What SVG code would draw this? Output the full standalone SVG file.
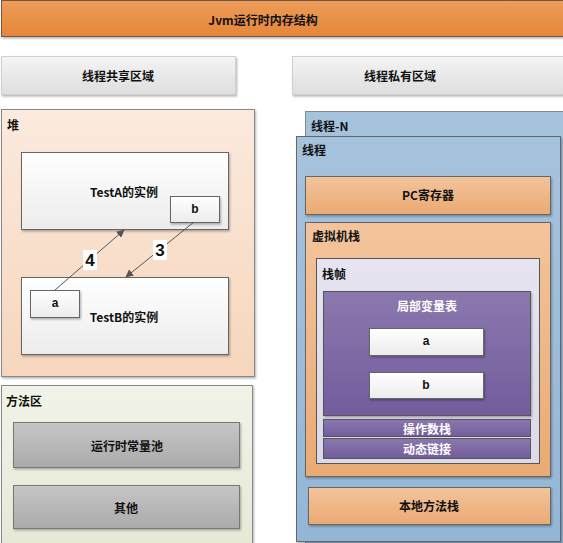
<svg xmlns="http://www.w3.org/2000/svg" width="563" height="543" viewBox="0 0 563 543">
<defs>
<linearGradient id="gOrange" x1="0" y1="0" x2="0" y2="1"><stop offset="0" stop-color="#ed9c58"/><stop offset="1" stop-color="#e5863a"/></linearGradient>
<linearGradient id="gGrey" x1="0" y1="0" x2="0" y2="1"><stop offset="0" stop-color="#f4f4f4"/><stop offset="1" stop-color="#dedede"/></linearGradient>
<linearGradient id="gPeach" x1="0" y1="0" x2="0" y2="1"><stop offset="0" stop-color="#fbeade"/><stop offset="1" stop-color="#f6d6bc"/></linearGradient>
<linearGradient id="gWhite" x1="0" y1="0" x2="0" y2="1"><stop offset="0" stop-color="#ffffff"/><stop offset="1" stop-color="#ececec"/></linearGradient>
<linearGradient id="gGreen" x1="0" y1="0" x2="0" y2="1"><stop offset="0" stop-color="#f1f3e8"/><stop offset="1" stop-color="#e6e9d6"/></linearGradient>
<linearGradient id="gMid" x1="0" y1="0" x2="0" y2="1"><stop offset="0" stop-color="#c6c6c6"/><stop offset="1" stop-color="#aaaaaa"/></linearGradient>
<linearGradient id="gBlue" x1="0" y1="0" x2="0" y2="1"><stop offset="0" stop-color="#a6c3dd"/><stop offset="1" stop-color="#94b6d6"/></linearGradient>
<linearGradient id="gLight" x1="0" y1="0" x2="0" y2="1"><stop offset="0" stop-color="#f3c49c"/><stop offset="1" stop-color="#eaaa73"/></linearGradient>
<linearGradient id="gLav" x1="0" y1="0" x2="0" y2="1"><stop offset="0" stop-color="#e6e4f0"/><stop offset="1" stop-color="#dcd9e8"/></linearGradient>
<linearGradient id="gPurple" x1="0" y1="0" x2="0" y2="1"><stop offset="0" stop-color="#8b78ae"/><stop offset="1" stop-color="#725d9c"/></linearGradient>
<filter id="sh" x="-5%" y="-5%" width="115%" height="120%"><feDropShadow dx="1" dy="1.5" stdDeviation="1" flood-color="#000" flood-opacity="0.3"/></filter>
<marker id="arr" viewBox="0 0 10 10" refX="9" refY="5" markerWidth="8" markerHeight="8" orient="auto-start-reverse" markerUnits="userSpaceOnUse"><path d="M0,0 L10,5 L0,10 z" fill="#555"/></marker>
</defs>
<style>
text{font-family:"Noto Sans CJK SC","Liberation Sans",sans-serif;font-size:12px;font-weight:bold;fill:#111;}
.c{text-anchor:middle;dominant-baseline:central;}
.l{dominant-baseline:central;}
.w{fill:#fff;}
.b{stroke:#666;stroke-width:1;}
.num{font-family:"Liberation Sans",sans-serif;font-size:17px;}
</style>
<rect width="563" height="543" fill="#fff"/>
<g id="title"><rect x="1.5" y="0.5" width="563" height="36" fill="url(#gOrange)" stroke="#6d5848" filter="url(#sh)"/><text class="c" x="263" y="19">Jvm运行时内存结构</text></g>
<g id="shared"><rect x="1.5" y="56.5" width="234" height="38" fill="url(#gGrey)" stroke="#d0d0d0" filter="url(#sh)"/><text class="c" x="118" y="75">线程共享区域</text></g>
<g id="private"><rect x="292.5" y="56.5" width="272" height="38" fill="url(#gGrey)" stroke="#d0d0d0" filter="url(#sh)"/><text class="c" x="400" y="75">线程私有区域</text></g>
<g id="heap"><rect x="1.5" y="109.5" width="253" height="267" fill="url(#gPeach)" stroke="#888" filter="url(#sh)"/><text class="l" x="7" y="124">堆</text></g>
<g id="testA"><rect x="21.5" y="152.5" width="207" height="77" fill="url(#gWhite)" class="b" filter="url(#sh)"/><text class="c" x="124" y="191">TestA的实例</text></g>
<g id="testA-b"><rect x="170.5" y="196.5" width="49" height="26" fill="url(#gWhite)" class="b" filter="url(#sh)"/><text class="c" x="195" y="209" style="font-family:'Liberation Sans',sans-serif">b</text></g>
<g id="testB"><rect x="21.5" y="277.5" width="207" height="77" fill="url(#gWhite)" class="b" filter="url(#sh)"/><text class="c" x="124" y="316">TestB的实例</text></g>
<g id="testB-a"><rect x="30.5" y="290.5" width="49" height="27" fill="url(#gWhite)" class="b" filter="url(#sh)"/><text class="c" x="55" y="303" style="font-family:'Liberation Sans',sans-serif">a</text></g>
<g id="connectors" fill="none" stroke="#555" stroke-width="1">
<line x1="55" y1="290" x2="124" y2="230" marker-end="url(#arr)"/>
<line x1="194" y1="222" x2="126" y2="277" marker-end="url(#arr)"/>
<rect x="83" y="250" width="14" height="20" fill="#fff" stroke="none"/>
<rect x="153" y="240" width="14" height="20" fill="#fff" stroke="none"/>
<text class="c num" x="90" y="260" stroke="none">4</text>
<text class="c num" x="160" y="250" stroke="none">3</text>
</g>
<g id="method"><rect x="1.5" y="385.5" width="251" height="160" fill="url(#gGreen)" stroke="#888" filter="url(#sh)"/><text class="l" x="6" y="400">方法区</text></g>
<g id="pool"><rect x="13.5" y="422.5" width="226" height="45" fill="url(#gMid)" stroke="#777" filter="url(#sh)"/><text class="c" x="127" y="445">运行时常量池</text></g>
<g id="other"><rect x="13.5" y="485.5" width="226" height="43" fill="url(#gMid)" stroke="#777" filter="url(#sh)"/><text class="c" x="126" y="507">其他</text></g>
<g id="threadN"><rect x="305.5" y="111.5" width="260" height="440" fill="url(#gBlue)" stroke="#888"/><text class="l" x="311" y="125">线程-N</text></g>
<g id="thread"><rect x="296.5" y="136.5" width="264" height="405" fill="url(#gBlue)" stroke="#666" filter="url(#sh)"/><text class="l" x="302" y="149">线程</text></g>
<g id="pc"><rect x="305.5" y="176.5" width="245" height="38" fill="url(#gLight)" stroke="#666" filter="url(#sh)"/><text class="c" x="428" y="194">PC寄存器</text></g>
<g id="vmstack"><rect x="305.5" y="222.5" width="245" height="254" fill="url(#gLight)" stroke="#666" filter="url(#sh)"/><text class="l" x="312" y="235">虚拟机栈</text></g>
<g id="frame"><rect x="316.5" y="258.5" width="223" height="205" fill="url(#gLav)" stroke="#555"/><text class="l" x="322" y="273">栈帧</text></g>
<g id="locals"><rect x="323.5" y="291.5" width="207" height="124" fill="url(#gPurple)" stroke="#555" filter="url(#sh)"/><text class="c w" x="427" y="305">局部变量表</text></g>
<g id="local-a"><rect x="369.5" y="328.5" width="114" height="27" fill="url(#gWhite)" class="b" filter="url(#sh)"/><text class="c" x="426" y="341" style="font-family:'Liberation Sans',sans-serif">a</text></g>
<g id="local-b"><rect x="369.5" y="372.5" width="114" height="26" fill="url(#gWhite)" class="b" filter="url(#sh)"/><text class="c" x="426" y="385" style="font-family:'Liberation Sans',sans-serif">b</text></g>
<g id="operand"><rect x="323.5" y="419.5" width="207" height="17" fill="url(#gPurple)" stroke="#555"/><text class="c w" x="427" y="428">操作数栈</text></g>
<g id="dynlink"><rect x="323.5" y="438.5" width="207" height="20" fill="url(#gPurple)" stroke="#555"/><text class="c w" x="427" y="448">动态链接</text></g>
<g id="native"><rect x="308.5" y="487.5" width="242" height="37" fill="url(#gLight)" stroke="#666" filter="url(#sh)"/><text class="c" x="429" y="505">本地方法栈</text></g>
</svg>
